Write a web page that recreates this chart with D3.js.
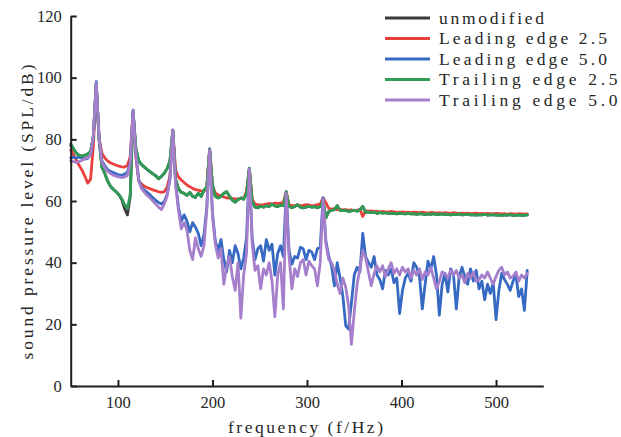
<!DOCTYPE html>
<html>
<head>
<meta charset="utf-8">
<script src="https://cdn.jsdelivr.net/npm/d3@7"></script>
<style>
  html, body { margin: 0; padding: 0; background: #fff; }
  svg { display: block; }
</style>
</head>
<body>
<svg id="chart" width="621" height="437"></svg>
<script>
// Frequency grid (Hz), one sample every 3 Hz
const frequency = [
  50, 53, 56, 59, 62, 65, 68, 71, 74, 77,
  80, 83, 86, 89, 92, 95, 98, 101, 104, 107,
  110, 113, 116, 119, 122, 125, 128, 131, 134, 137,
  140, 143, 146, 149, 152, 155, 158, 161, 164, 167,
  170, 173, 176, 179, 182, 185, 188, 191, 194, 197,
  200, 203, 206, 209, 212, 215, 218, 221, 224, 227,
  230, 233, 236, 239, 242, 245, 248, 251, 254, 257,
  260, 263, 266, 269, 272, 275, 278, 281, 284, 287,
  290, 293, 296, 299, 302, 305, 308, 311, 314, 317,
  320, 323, 326, 329, 332, 335, 338, 341, 344, 347,
  350, 353, 356, 359, 362, 365, 368, 371, 374, 377,
  380, 383, 386, 389, 392, 395, 398, 401, 404, 407,
  410, 413, 416, 419, 422, 425, 428, 431, 434, 437,
  440, 443, 446, 449, 452, 455, 458, 461, 464, 467,
  470, 473, 476, 479, 482, 485, 488, 491, 494, 497,
  500, 503, 506, 509, 512, 515, 518, 521, 524, 527,
  530, 533
];

// Sound pressure level (dB) for each configuration
const unmodified = [
  78.0, 76.8, 75.5, 74.8, 74.5, 74.8, 75.2, 76.0, 81.0, 98.0,
  80.0, 71.0, 69.0, 66.5, 64.8, 63.8, 63.0, 62.0, 60.5, 57.5,
  55.5, 61.5, 89.0, 77.0, 73.0, 71.8, 71.0, 70.2, 69.5, 68.8,
  68.2, 67.2, 68.0, 69.0, 70.5, 73.0, 83.0, 67.0, 64.0, 62.8,
  62.5, 61.8, 62.8, 61.5, 61.2, 62.5, 61.5, 63.5, 64.5, 76.8,
  65.0, 61.5, 61.0, 61.5, 62.5, 63.0, 61.5, 60.3, 59.6, 60.5,
  61.0, 60.6, 62.5, 70.6, 60.0, 58.0, 57.8, 58.3, 58.0, 58.5,
  58.2, 59.0, 58.4, 58.2, 58.7, 58.5, 62.8, 58.3, 57.8, 58.2,
  58.8, 58.0, 57.8, 58.0, 58.3, 58.0, 58.2, 57.8, 58.2, 60.0,
  54.5, 56.6, 57.0, 57.2, 58.5, 57.0, 56.9, 57.0, 56.6, 56.8,
  57.0, 56.7, 57.2, 58.2, 56.3, 56.5, 56.2, 56.4, 56.0, 56.3,
  56.1, 56.2, 55.9, 56.1, 56.0, 55.8, 56.1, 55.9, 55.8, 56.0,
  55.8, 55.9, 55.7, 55.9, 55.8, 55.6, 55.8, 55.7, 55.9, 55.6,
  55.7, 55.8, 55.6, 55.7, 55.5, 55.7, 55.6, 55.8, 55.5, 55.6,
  55.7, 55.5, 55.6, 55.4, 55.6, 55.5, 55.7, 55.4, 55.5, 55.6,
  55.4, 55.5, 55.3, 55.5, 55.4, 55.6, 55.3, 55.4, 55.5, 55.3,
  55.4, 55.5
];

const leading25 = [
  76.5, 75.0, 73.2, 71.5, 70.0, 68.0, 65.8, 67.0, 78.0, 97.5,
  80.5, 75.5, 74.0, 73.0, 72.4, 72.0, 71.6, 71.3, 71.1, 71.0,
  71.5, 74.5, 89.3, 74.0, 66.5, 65.5, 64.8, 64.3, 64.0, 63.6,
  63.3, 63.0, 62.8, 63.0, 64.5, 68.0, 83.0, 70.0, 67.8, 66.8,
  66.0, 65.2, 64.6, 64.1, 63.7, 63.5, 63.3, 63.2, 64.0, 76.8,
  65.0, 62.5, 62.0, 61.6, 61.3, 61.0, 60.9, 60.8, 60.7, 60.7,
  60.8, 61.0, 63.0, 70.6, 60.5, 59.0, 58.8, 58.7, 58.8, 59.0,
  59.2, 59.0, 59.3, 59.2, 59.3, 59.6, 63.0, 58.8, 58.5, 58.5,
  58.7, 58.5, 58.6, 58.8, 58.7, 58.5, 58.6, 58.8, 59.0, 61.0,
  59.5, 57.6, 57.4, 57.5, 57.2, 57.3, 57.1, 57.2, 57.0, 57.1,
  56.9, 57.0, 57.3, 55.0, 56.8, 56.7, 56.8, 56.6, 56.7, 56.5,
  56.6, 56.5, 56.4, 56.6, 56.5, 56.3, 56.4, 56.5, 56.3, 56.4,
  56.2, 56.4, 56.3, 56.2, 56.4, 56.2, 56.1, 56.3, 56.2, 56.1,
  56.2, 56.0, 56.2, 56.1, 56.0, 56.2, 56.1, 55.9, 56.1, 56.0,
  56.1, 55.9, 56.0, 56.1, 55.9, 56.0, 55.8, 56.0, 55.9, 55.8,
  56.0, 55.9, 55.8, 55.9, 55.7, 55.9, 55.8, 55.7, 55.9, 55.8,
  55.7, 55.8
];

const leading50 = [
  74.0, 74.2, 74.0, 74.2, 74.0, 73.6, 73.8, 75.0, 81.0, 98.7,
  80.5, 73.0, 71.5, 70.2, 69.6, 69.2, 68.8, 68.5, 68.3, 68.8,
  69.3, 72.5, 89.5, 75.0, 67.0, 64.5, 63.5, 62.8, 62.0, 61.0,
  60.2, 59.5, 59.0, 59.8, 62.0, 67.0, 83.0, 66.0, 58.0, 53.5,
  55.5, 53.5, 50.0, 53.0, 51.5, 49.5, 45.5, 49.0, 58.0, 76.9,
  56.0, 47.0, 44.0, 47.5, 41.0, 37.0, 44.0, 40.0, 45.5, 43.0,
  38.0, 41.5, 48.0, 70.6, 48.0, 41.0, 44.5, 45.5, 40.5, 47.5,
  44.0, 46.0, 36.0, 43.0, 45.5, 42.0, 63.0, 44.0, 39.5, 42.0,
  41.5, 45.0, 44.5, 41.0, 44.0, 43.5, 41.0, 44.5, 45.0, 61.0,
  47.0, 42.0, 39.0, 32.5, 40.0, 35.0, 29.0, 19.5, 18.5, 27.0,
  36.0, 38.5, 37.0, 49.5, 42.0, 40.0, 38.5, 42.0, 36.0, 34.5,
  31.5, 37.5, 36.0, 38.0, 33.5, 35.0, 23.5, 31.0, 35.0, 36.5,
  34.0, 40.0, 38.5, 35.5, 25.0, 33.0, 40.5, 38.0, 42.0, 36.0,
  23.0, 33.0, 36.5, 30.5, 38.0, 36.0, 25.0, 35.5, 38.5, 35.5,
  33.0, 38.0, 34.0, 37.5, 31.5, 34.0, 28.0, 33.0, 30.0, 33.5,
  21.5, 31.0, 36.5, 34.5, 33.0, 31.0, 34.0, 36.0, 29.0, 31.5,
  24.5, 37.5
];

const trailing25 = [
  78.5, 77.0, 75.5, 74.8, 74.5, 74.8, 75.2, 76.0, 81.0, 98.0,
  80.0, 71.0, 69.0, 66.5, 64.8, 63.8, 63.0, 62.0, 60.8, 58.8,
  57.6, 62.0, 89.0, 77.0, 73.0, 71.8, 71.0, 70.2, 69.5, 68.8,
  68.2, 67.2, 68.0, 69.0, 70.5, 73.0, 83.0, 67.0, 64.0, 62.8,
  62.5, 61.8, 62.8, 61.5, 61.2, 62.5, 61.5, 63.5, 64.5, 76.8,
  65.0, 61.5, 61.0, 61.5, 62.5, 63.0, 61.5, 60.3, 59.6, 60.5,
  61.0, 60.6, 62.5, 70.6, 60.0, 58.0, 57.8, 58.3, 58.0, 58.5,
  58.2, 59.0, 58.4, 58.2, 58.7, 58.5, 62.8, 58.3, 57.8, 58.2,
  58.8, 58.0, 57.8, 58.0, 58.3, 58.0, 58.2, 57.8, 58.2, 60.0,
  54.5, 56.6, 57.0, 57.2, 58.5, 57.0, 56.9, 57.0, 56.6, 56.8,
  57.0, 56.7, 57.2, 58.2, 56.3, 56.5, 56.2, 56.4, 56.0, 56.3,
  56.1, 56.2, 55.9, 56.1, 56.0, 55.8, 56.1, 55.9, 55.8, 56.0,
  55.8, 55.9, 55.7, 55.9, 55.8, 55.6, 55.8, 55.7, 55.9, 55.6,
  55.7, 55.8, 55.6, 55.7, 55.5, 55.7, 55.6, 55.8, 55.5, 55.6,
  55.7, 55.5, 55.6, 55.4, 55.6, 55.5, 55.7, 55.4, 55.5, 55.6,
  55.4, 55.5, 55.3, 55.5, 55.4, 55.6, 55.3, 55.4, 55.5, 55.3,
  55.4, 55.5
];

const trailing50 = [
  73.0, 72.8, 72.5, 72.8, 73.2, 73.8, 74.0, 75.0, 81.5, 98.3,
  80.5, 72.5, 70.8, 69.6, 69.0, 68.4, 68.0, 67.8, 67.6, 67.8,
  68.3, 72.0, 89.3, 75.0, 66.5, 64.0, 62.8, 61.8, 61.0, 60.0,
  59.0, 58.0, 57.2, 59.0, 61.5, 67.0, 83.0, 65.0, 57.0, 51.0,
  53.0, 50.5, 44.0, 41.0, 48.0, 44.5, 42.0, 45.5, 57.0, 76.5,
  55.0, 46.0, 41.5, 44.5, 33.0, 39.0, 42.0, 35.5, 31.0, 40.0,
  22.0, 36.0, 43.0, 70.3, 46.0, 37.5, 39.0, 31.5, 38.0, 36.0,
  40.0, 34.0, 22.5, 36.0, 40.0, 25.0, 62.5, 42.0, 31.5, 38.0,
  35.5, 40.0, 41.0, 36.0, 40.5, 39.0, 38.0, 32.5, 40.0, 60.5,
  46.0, 41.0, 40.0, 37.5, 33.0, 30.0, 35.0, 32.0, 26.0, 13.5,
  24.0, 33.0, 38.0, 44.0, 41.5, 37.0, 32.5, 36.5, 39.0, 37.0,
  39.0, 35.5, 38.0, 40.0, 36.5, 38.0, 36.0, 38.5, 37.0, 38.0,
  35.0, 37.5, 36.0, 38.0, 34.5, 37.0, 36.0, 38.5, 35.0, 31.5,
  34.0, 37.0, 36.5, 35.0, 37.5, 36.0, 37.5, 35.0, 36.0, 33.5,
  36.5, 35.0, 37.0, 34.0, 34.5, 36.0, 35.0, 37.0, 35.0, 33.0,
  35.5, 37.5, 38.5, 36.0, 37.0, 35.0, 35.5, 37.0, 34.0, 36.0,
  35.0, 36.5
];

const seriesNames = ["unmodified", "Leading edge 2.5", "Leading edge 5.0", "Trailing edge 2.5", "Trailing edge 5.0"];
const seriesValues = [unmodified, leading25, leading50, trailing25, trailing50];
const seriesColors = ["#3b3b3b", "#e8403c", "#3569c2", "#2f9c55", "#a57fcc"];

const xTicks = [100, 200, 300, 400, 500];
const yTicks = [0, 20, 40, 60, 80, 100, 120];

const svg = d3.select("#chart");
const plotLeft = 70.7, plotRight = 543.3, plotTop = 16, plotBottom = 386;

const x = d3.scaleLinear().domain([50, 550]).range([plotLeft, plotRight]);
const y = d3.scaleLinear().domain([0, 120]).range([plotBottom, plotTop]);

const serif = "'Liberation Serif', 'Times New Roman', serif";
const textColor = "#262626";

// Series lines
const line = d3.line()
  .x((d, i) => x(frequency[i]))
  .y(d => y(d));

svg.append("g")
  .selectAll("path")
  .data(seriesValues)
  .join("path")
  .attr("d", d => line(d))
  .attr("fill", "none")
  .attr("stroke", (d, i) => seriesColors[i])
  .attr("stroke-width", 2.8)
  .attr("stroke-linejoin", "round")
  .attr("stroke-linecap", "round");

// Axes with inward ticks
const xAxis = svg.append("g")
  .attr("transform", `translate(0,${plotBottom})`)
  .call(d3.axisBottom(x).tickValues(xTicks).tickSizeInner(-6).tickSizeOuter(0).tickPadding(10));

const yAxis = svg.append("g")
  .attr("transform", `translate(${plotLeft},0)`)
  .call(d3.axisLeft(y).tickValues(yTicks).tickSizeInner(-6).tickSizeOuter(0).tickPadding(9));

[xAxis, yAxis].forEach(g => {
  g.select(".domain").attr("stroke", "#1e1e1e").attr("stroke-width", 2);
  g.selectAll(".tick line").attr("stroke", "#1e1e1e").attr("stroke-width", 2);
  g.selectAll(".tick text")
    .attr("fill", textColor)
    .style("font-family", serif)
    .style("font-size", "16.5px");
});

// Axis titles
svg.append("text")
  .attr("x", 305.5)
  .attr("y", 433)
  .attr("text-anchor", "middle")
  .attr("textLength", 155)
  .attr("lengthAdjust", "spacing")
  .attr("fill", textColor)
  .style("font-family", serif)
  .style("font-size", "17.5px")
  .text("frequency (f/Hz)");

svg.append("text")
  .attr("transform", "translate(33,212) rotate(-90)")
  .attr("text-anchor", "middle")
  .attr("textLength", 295)
  .attr("lengthAdjust", "spacing")
  .attr("fill", textColor)
  .style("font-family", serif)
  .style("font-size", "17.5px")
  .text("sound pressure level (SPL/dB)");

// Legend
const legend = svg.append("g");
const rowY = d3.scaleLinear().domain([0, 4]).range([18, 100]);
seriesNames.forEach((name, i) => {
  const cy = rowY(i);
  legend.append("line")
    .attr("x1", 385).attr("x2", 430)
    .attr("y1", cy).attr("y2", cy)
    .attr("stroke", seriesColors[i])
    .attr("stroke-width", 2.8);
  legend.append("text")
    .attr("x", 439)
    .attr("y", cy + 5.5)
    .attr("textLength", name.length * 10.5)
    .attr("lengthAdjust", "spacing")
    .attr("fill", textColor)
    .style("font-family", serif)
    .style("font-size", "17.5px")
    .text(name);
});
</script>
</body>
</html>
